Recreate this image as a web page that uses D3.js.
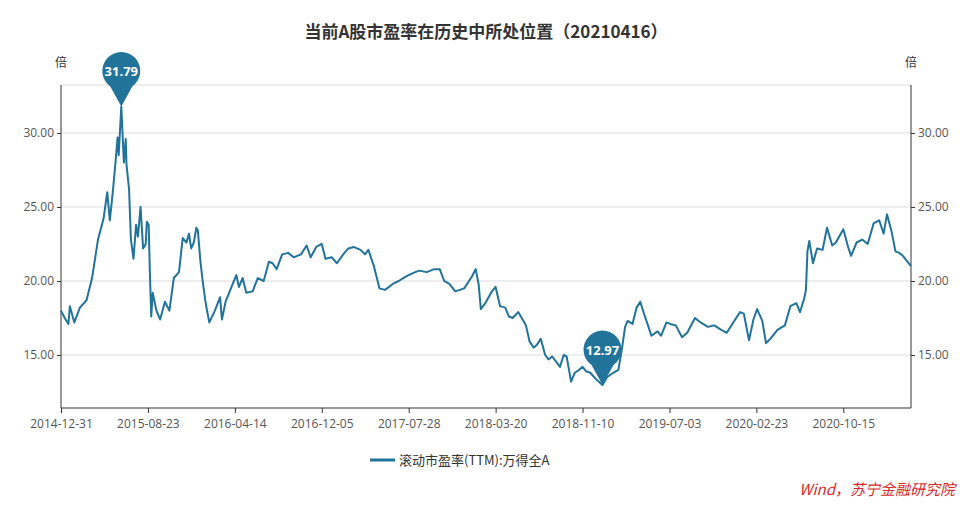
<!DOCTYPE html>
<html lang="en">
<head>
<meta charset="UTF-8">
<title>当前A股市盈率在历史中所处位置</title>
<script src="https://cdn.jsdelivr.net/npm/d3@7"></script>
<style>
  body { margin: 0; background: #fff; font-family: "Microsoft YaHei", "Noto Sans CJK SC", sans-serif; }
  .axis text { fill: #555; font-size: 12px; font-family: "Open Sans", "Noto Sans", sans-serif; }
  .axis path, .axis line { stroke: #333; }
</style>
</head>
<body>
<svg id="chart" width="972" height="508"></svg>
<script>
// trailing PE (TTM) of Wind All A
const dates = ["2014-12-31","2015-01-10","2015-01-20","2015-01-24","2015-02-05","2015-02-20","2015-03-10","2015-03-25","2015-04-10","2015-04-25","2015-05-05","2015-05-12","2015-05-20","2015-05-28","2015-06-02","2015-06-05","2015-06-12","2015-06-19","2015-06-24","2015-06-26","2015-07-03","2015-07-08","2015-07-15","2015-07-22","2015-07-27","2015-08-03","2015-08-10","2015-08-17","2015-08-20","2015-08-25","2015-08-28","2015-09-01","2015-09-05","2015-09-15","2015-09-25","2015-10-08","2015-10-20","2015-11-01","2015-11-15","2015-11-25","2015-12-05","2015-12-12","2015-12-18","2015-12-25","2016-01-01","2016-01-05","2016-01-12","2016-01-18","2016-01-25","2016-01-29","2016-02-05","2016-02-20","2016-03-05","2016-03-10","2016-03-20","2016-04-05","2016-04-18","2016-04-25","2016-05-05","2016-05-15","2016-06-01","2016-06-15","2016-07-01","2016-07-15","2016-07-25","2016-08-05","2016-08-20","2016-09-05","2016-09-20","2016-10-10","2016-10-25","2016-11-05","2016-11-20","2016-12-05","2016-12-15","2017-01-01","2017-01-15","2017-02-01","2017-02-15","2017-03-01","2017-03-20","2017-04-01","2017-04-10","2017-04-25","2017-05-10","2017-05-25","2017-06-15","2017-07-01","2017-07-20","2017-08-05","2017-08-25","2017-09-15","2017-10-05","2017-10-20","2017-11-01","2017-11-15","2017-12-01","2017-12-25","2018-01-15","2018-01-25","2018-02-02","2018-02-08","2018-02-20","2018-03-10","2018-03-20","2018-04-01","2018-04-15","2018-04-25","2018-05-05","2018-05-20","2018-06-01","2018-06-10","2018-06-20","2018-07-01","2018-07-10","2018-07-20","2018-08-01","2018-08-10","2018-08-20","2018-09-01","2018-09-10","2018-09-20","2018-09-28","2018-10-10","2018-10-20","2018-11-01","2018-11-10","2018-11-20","2018-12-01","2018-12-15","2019-01-03","2019-01-15","2019-02-01","2019-02-15","2019-02-25","2019-03-05","2019-03-12","2019-03-25","2019-04-05","2019-04-15","2019-04-25","2019-05-06","2019-05-15","2019-06-01","2019-06-10","2019-06-25","2019-07-05","2019-07-20","2019-08-06","2019-08-20","2019-09-10","2019-09-25","2019-10-15","2019-11-01","2019-11-20","2019-12-05","2019-12-25","2020-01-10","2020-01-20","2020-02-03","2020-02-15","2020-02-25","2020-03-10","2020-03-20","2020-04-01","2020-04-20","2020-05-10","2020-05-25","2020-06-10","2020-06-20","2020-07-01","2020-07-06","2020-07-10","2020-07-15","2020-07-25","2020-08-05","2020-08-20","2020-09-01","2020-09-15","2020-09-25","2020-10-15","2020-10-28","2020-11-05","2020-11-20","2020-12-05","2020-12-20","2021-01-05","2021-01-20","2021-02-01","2021-02-10","2021-02-22","2021-03-05","2021-03-15","2021-03-25","2021-04-16"];
const peValues = [18.0,17.5,17.1,18.3,17.2,18.2,18.7,20.2,22.8,24.2,26.0,24.1,26.0,28.2,29.7,28.5,31.79,28.0,29.6,27.9,26.2,22.8,21.5,23.8,23.0,25.0,22.2,22.5,24.0,23.8,20.8,17.6,19.2,18.0,17.4,18.6,18.0,20.2,20.6,22.9,22.6,23.2,22.2,22.6,23.6,23.4,21.3,20.0,18.7,18.1,17.2,18.0,18.9,17.4,18.6,19.6,20.4,19.6,20.2,19.2,19.3,20.2,20.0,21.3,21.2,20.8,21.8,21.9,21.6,21.8,22.4,21.6,22.3,22.5,21.5,21.6,21.2,21.8,22.2,22.3,22.1,21.8,22.1,21.0,19.5,19.4,19.8,20.0,20.3,20.5,20.7,20.6,20.8,20.8,20.0,19.8,19.3,19.5,20.3,20.8,19.8,18.1,18.5,19.3,19.6,18.3,18.2,17.6,17.5,17.9,17.4,17.0,15.9,15.5,15.7,16.1,15.0,14.7,14.9,14.5,14.2,15.0,14.9,13.2,13.8,14.0,14.2,13.9,13.8,13.4,12.97,13.5,13.8,14.0,15.5,16.9,17.3,17.1,18.2,18.6,17.8,17.0,16.3,16.6,16.3,17.2,17.1,17.0,16.2,16.5,17.5,17.2,16.9,17.0,16.7,16.5,17.3,17.9,17.8,16.0,17.4,18.1,17.3,15.8,16.1,16.7,17.0,18.3,18.5,17.9,18.8,19.4,22.0,22.7,21.2,22.2,22.1,23.6,22.4,22.6,23.5,22.3,21.7,22.6,22.8,22.5,23.9,24.1,23.2,24.5,23.4,22.0,21.9,21.7,21.0];
const xTickLabels = ["2014-12-31","2015-08-23","2016-04-14","2016-12-05","2017-07-28","2018-03-20","2018-11-10","2019-07-03","2020-02-23","2020-10-15"];
const yTicks = [15, 20, 25, 30];
const pins = [{date: "2015-06-12", value: 31.79}, {date: "2019-01-03", value: 12.97}];

const parse = d3.timeParse("%Y-%m-%d");
const data = dates.map((d, i) => ({date: parse(d), value: peValues[i]}));

const svg = d3.select("#chart");
const plotLeft = 61, plotRight = 911, plotTop = 85, plotBottom = 408;
const color = "#21739a";

const x = d3.scaleTime().domain([parse("2014-12-31"), parse("2021-04-16")]).range([plotLeft, plotRight]);
const y = d3.scaleLinear().domain([11.42, 33.24]).range([plotBottom, plotTop]);

// title
svg.append("text").attr("x", 486).attr("y", 38).attr("text-anchor", "middle")
  .attr("font-size", 17).attr("font-weight", "bold").attr("fill", "#333")
  .text("当前A股市盈率在历史中所处位置（20210416）");

// grid
svg.append("g").selectAll("line").data(yTicks.concat([y.domain()[1]])).join("line")
  .attr("x1", plotLeft).attr("x2", plotRight).attr("y1", d => y(d)).attr("y2", d => y(d))
  .attr("stroke", "#ddd");

const fmt = d3.format(".2f");
svg.append("g").attr("class", "axis").attr("transform", `translate(${plotLeft},0)`)
  .call(d3.axisLeft(y).tickValues(yTicks).tickFormat(fmt).tickSize(4))
  .call(g => g.select(".domain").attr("d", `M0,${plotTop}V${plotBottom}`));
svg.append("g").attr("class", "axis").attr("transform", `translate(${plotRight},0)`)
  .call(d3.axisRight(y).tickValues(yTicks).tickFormat(fmt).tickSize(4))
  .call(g => g.select(".domain").attr("d", `M0,${plotTop}V${plotBottom}`));
svg.append("g").attr("class", "axis").attr("transform", `translate(0,${plotBottom})`)
  .call(d3.axisBottom(x).tickValues(xTickLabels.map(parse)).tickFormat(d3.timeFormat("%Y-%m-%d")).tickSize(5))
  .call(g => g.select(".domain").attr("d", `M${plotLeft},0H${plotRight}`))
  .selectAll("text").attr("dy", "1em");

svg.append("text").attr("x", 61).attr("y", 67).attr("text-anchor", "middle")
  .attr("font-size", 12).attr("fill", "#333").text("倍");
svg.append("text").attr("x", 911).attr("y", 67).attr("text-anchor", "middle")
  .attr("font-size", 12).attr("fill", "#333").text("倍");

// line
svg.append("path").datum(data)
  .attr("fill", "none").attr("stroke", color).attr("stroke-width", 2)
  .attr("stroke-linejoin", "round")
  .attr("d", d3.line().x(d => x(d.date)).y(d => y(d.value)));

// pins
pins.forEach(p => {
  const px = x(parse(p.date)), py = y(p.value);
  const cy = py - 35, r = 19;
  const g = svg.append("g");
  g.append("path").attr("fill", color)
    .attr("d", `M${px},${py} L${px - 11},${cy + 15} A${r},${r} 0 1 1 ${px + 11},${cy + 15} Z`);
  g.append("text").attr("x", px).attr("y", cy + 4.5).attr("text-anchor", "middle")
    .attr("fill", "#fff").attr("font-size", 13).attr("font-weight", "bold")
    .attr("font-family", "'Open Sans', sans-serif").text(fmt(p.value));
});

// legend
svg.append("line").attr("x1", 370).attr("x2", 395).attr("y1", 460).attr("y2", 460)
  .attr("stroke", color).attr("stroke-width", 3);
svg.append("text").attr("x", 399).attr("y", 465).attr("font-size", 13).attr("fill", "#333")
  .text("滚动市盈率(TTM):万得全A");

svg.append("text").attr("x", 955).attr("y", 495).attr("text-anchor", "end")
  .attr("font-size", 15).attr("font-style", "italic").attr("fill", "#d42a2a")
  .text("Wind，苏宁金融研究院");
</script>
</body>
</html>
